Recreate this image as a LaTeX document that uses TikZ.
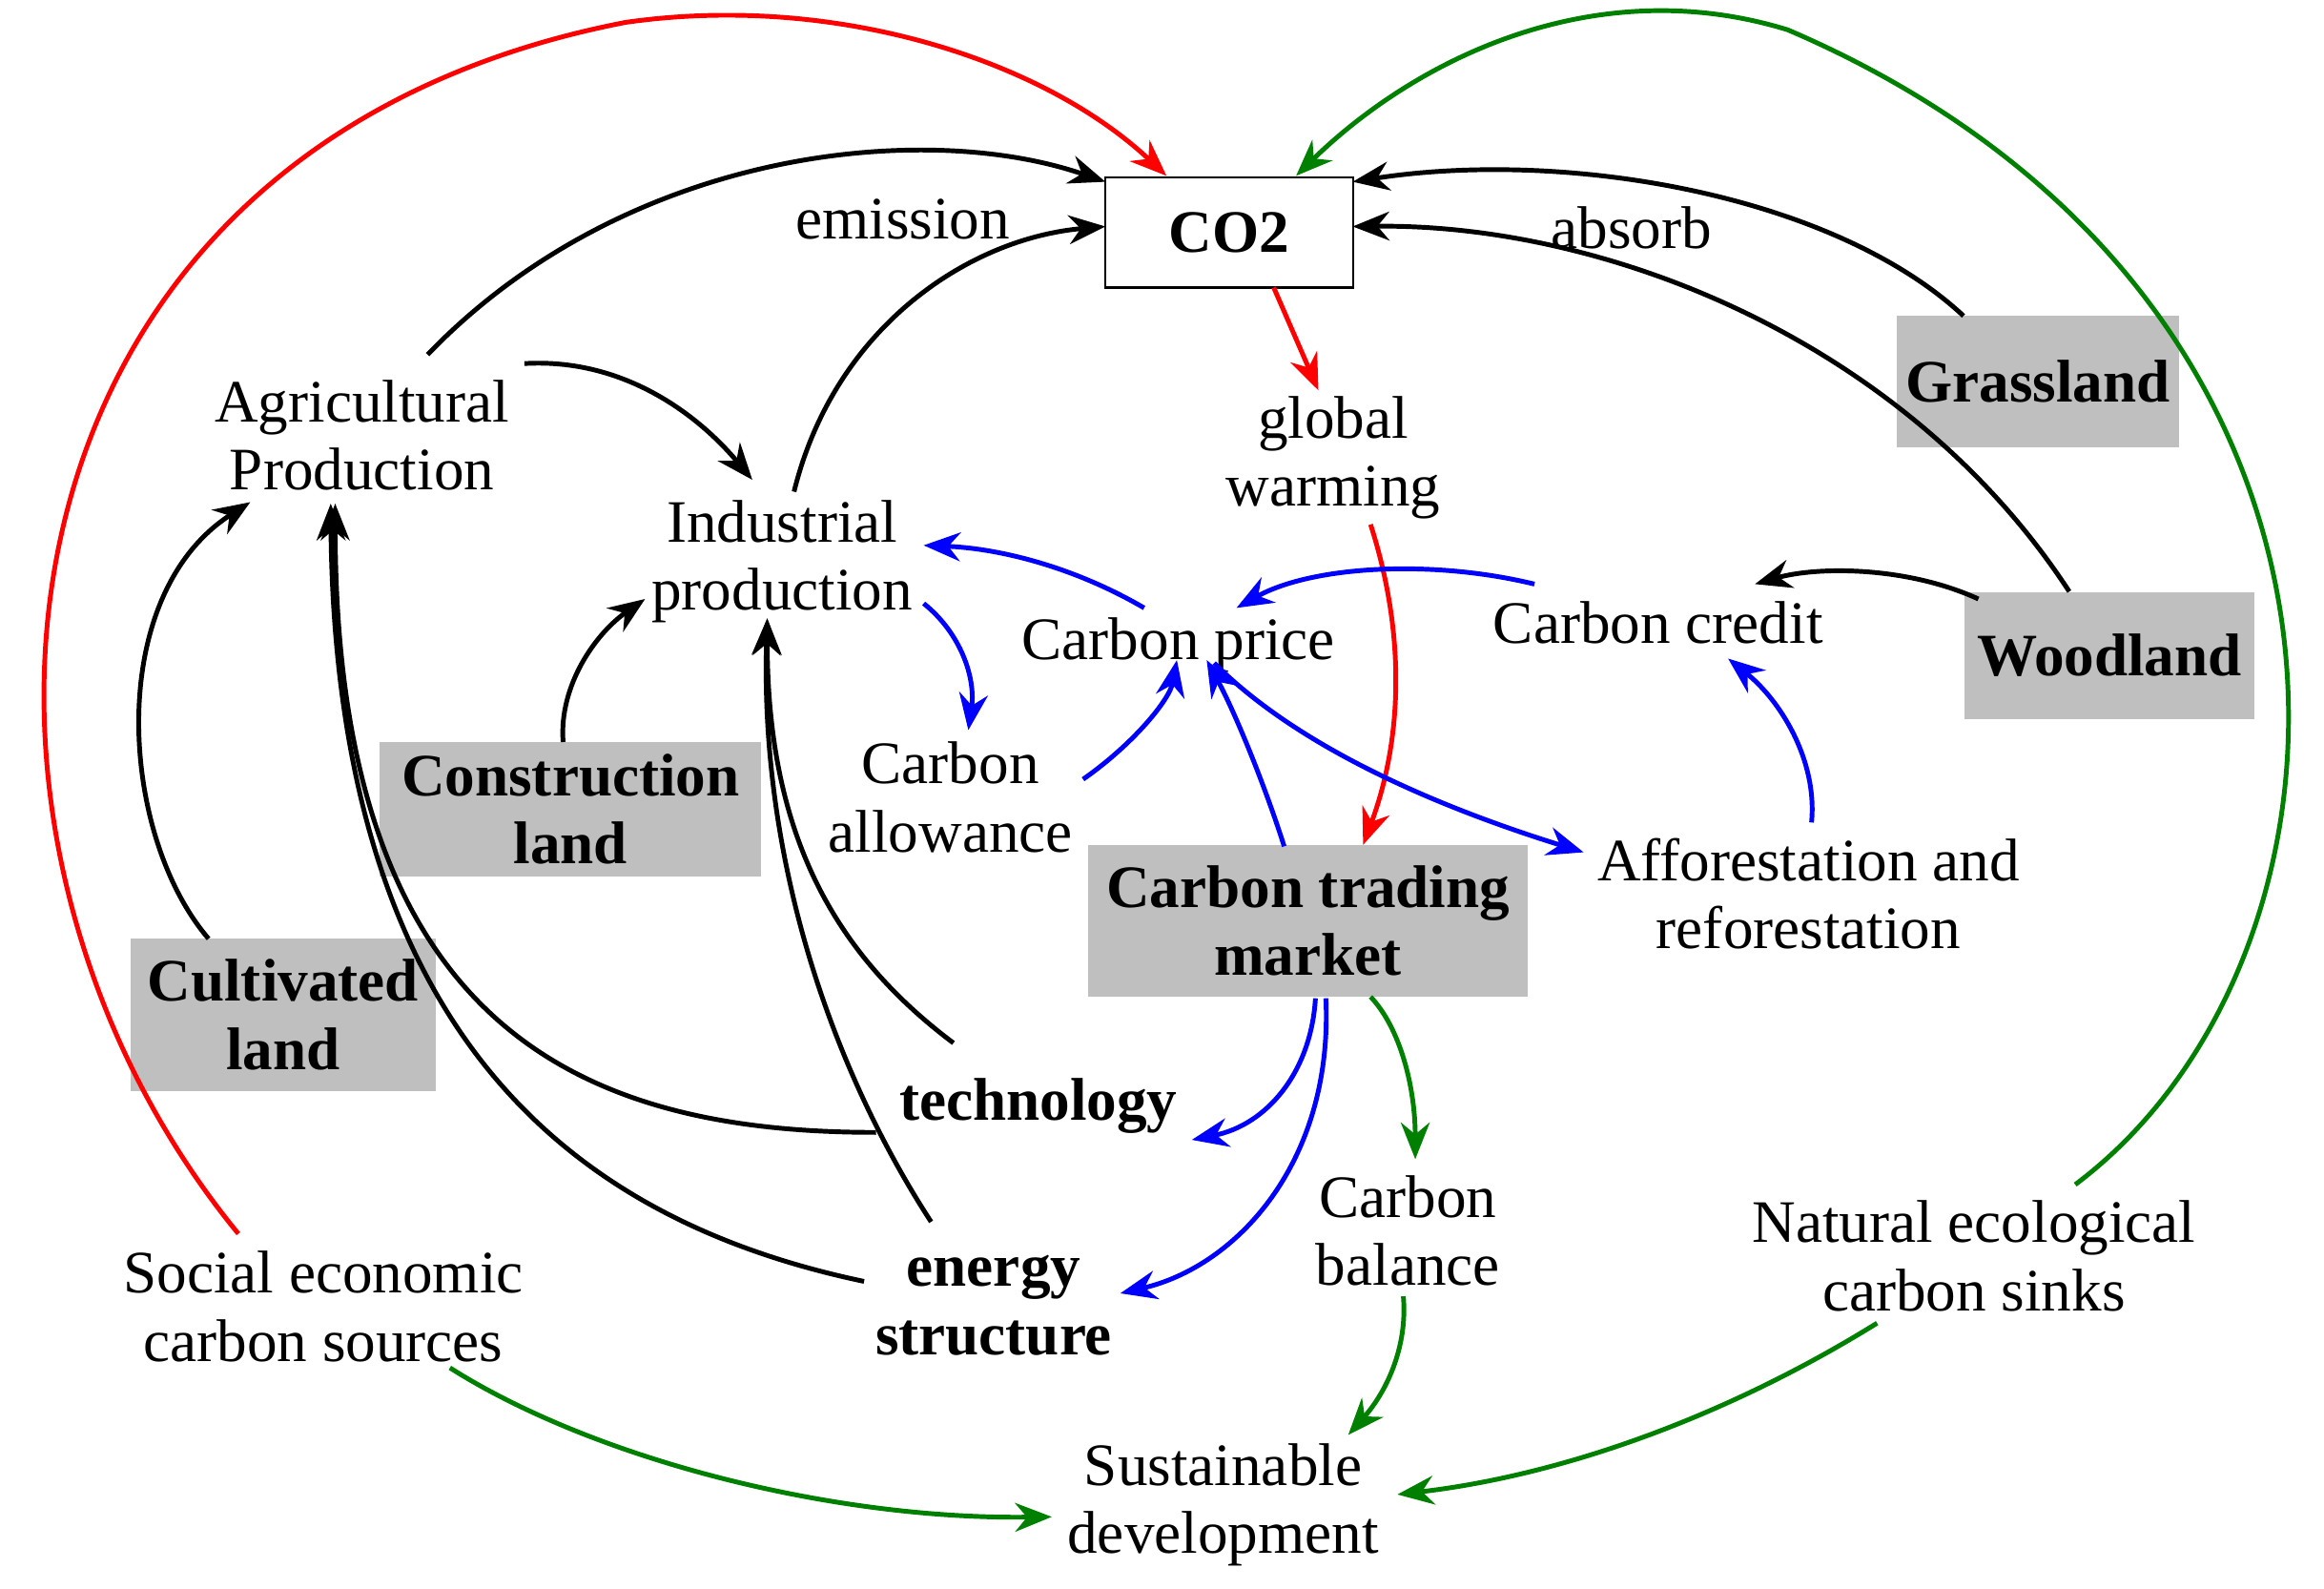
\documentclass[tikz,border=0pt]{standalone}
\usepackage{fontspec}
\setmainfont{Liberation Serif}
\usetikzlibrary{arrows.meta}
\begin{document}
\begin{tikzpicture}[x=0.01cm,y=-0.01cm,
 every node/.style={font=\fontsize{11.5}{13}\selectfont,align=center,inner sep=1pt},
 gbox/.style={fill=gray!50!white,font=\fontsize{11.5}{13}\selectfont\bfseries,minimum width=#1},
 ar/.style={line width=0.9pt,-{Stealth[length=7pt,width=5.5pt]}},
 bl/.style={ar,black}, bu/.style={ar,blue}, rd/.style={ar,red}, gn/.style={ar,green!50!black}]
\useasboundingbox (0,0) rectangle (1560,1066);
\node[draw,fill=white,minimum width=4.65cm/2.8,minimum height=0.74cm,font=\fontsize{11.5}{13}\selectfont\bfseries] (co2) at (825,156) {CO2};
\node (agr) at (243,292) {Agricultural\\Production};
\node (ind) at (525,377) {Industrial\\production};
\node (gw) at (895,307) {global\\warming};
\node[gbox=1.89cm,minimum height=0.88cm] (gras) at (1368,256) {Grassland};
\node[gbox=1.95cm,minimum height=0.85cm] (wood) at (1416,440) {Woodland};
\node (cc) at (1113,418) {Carbon credit};
\node (cp) at (791,433) {Carbon price};
\node (ca) at (638,535) {Carbon\\allowance};
\node[gbox=2.56cm,minimum height=0.9cm] (con) at (383,543) {Construction\\land};
\node[gbox=2.95cm,minimum height=1.02cm] (ctm) at (878,618) {Carbon trading\\market};
\node (aff) at (1214,600) {Afforestation and\\reforestation};
\node[gbox=2.05cm,minimum height=1.02cm] (cul) at (190,681) {Cultivated\\land};
\node[font=\fontsize{11.5}{13}\selectfont\bfseries] (tec) at (697,742) {technology};
\node (cb) at (945,826) {Carbon\\balance};
\node[font=\fontsize{11.5}{13}\selectfont\bfseries] (ene) at (667,876) {energy\\structure};
\node (soc) at (217,877) {Social economic\\carbon sources};
\node (nat) at (1325,843) {Natural ecological\\carbon sinks};
\node (sus) at (821,1010) {Sustainable\\development};
\node at (606,147) {emission};
\node at (1095,153) {absorb};
% red
\draw[rd] (160,828) .. controls (-60,560) and (-20,100) .. (420,15) .. controls (560,-5) and (700,40) .. (783,118);
\draw[rd] (855,193) -- (885,262);
\draw[rd] (920,352) .. controls (945,430) and (940,500) .. (915,567);
% green
\draw[gn] (1393,795) .. controls (1600,640) and (1620,200) .. (1200,20) .. controls (1070,-20) and (950,40) .. (870,118);
\draw[gn] (920,669) .. controls (940,690) and (950,730) .. (950,778);
\draw[gn] (942,870) .. controls (945,905) and (930,935) .. (905,963);
\draw[gn] (302,918) .. controls (400,980) and (560,1020) .. (706,1018);
\draw[gn] (1260,888) .. controls (1160,950) and (1050,990) .. (938,1003);
% black
\draw[bl] (287,238) .. controls (420,100) and (620,80) .. (742,122);
\draw[bl] (533,330) .. controls (560,220) and (650,160) .. (742,152);
\draw[bl] (1318,212) .. controls (1230,130) and (1050,100) .. (908,122);
\draw[bl] (1389,397) .. controls (1280,230) and (1080,150) .. (908,152);
\draw[bl] (352,244) .. controls (420,240) and (470,280) .. (505,322);
\draw[bl] (140,630) .. controls (80,560) and (70,400) .. (168,337);
\draw[bl] (378,498) .. controls (375,460) and (400,425) .. (433,402);
\draw[bl] (640,700) .. controls (560,640) and (515,560) .. (515,415);
\draw[bl] (588,760) .. controls (390,760) and (225,690) .. (225,338);
\draw[bl] (625,820) .. controls (560,720) and (510,580) .. (515,415);
\draw[bl] (580,860) .. controls (390,820) and (225,700) .. (222,338);
\draw[bl] (1328,402) .. controls (1280,380) and (1220,380) .. (1178,392);
% blue
\draw[bu] (768,408) .. controls (720,380) and (670,368) .. (620,366);
\draw[bu] (620,405) .. controls (645,425) and (655,455) .. (650,490);
\draw[bu] (727,523) .. controls (760,500) and (785,470) .. (790,443);
\draw[bu] (862,568) .. controls (850,530) and (830,480) .. (810,443);
\draw[bu] (815,445) .. controls (870,500) and (960,540) .. (1063,572);
\draw[bu] (1030,392) .. controls (960,375) and (880,380) .. (830,408);
\draw[bu] (1216,552) .. controls (1220,510) and (1195,470) .. (1160,442);
\draw[bu] (883,670) .. controls (880,720) and (850,755) .. (800,765);
\draw[bu] (890,670) .. controls (895,780) and (830,850) .. (752,868);
\end{tikzpicture}
\end{document}
